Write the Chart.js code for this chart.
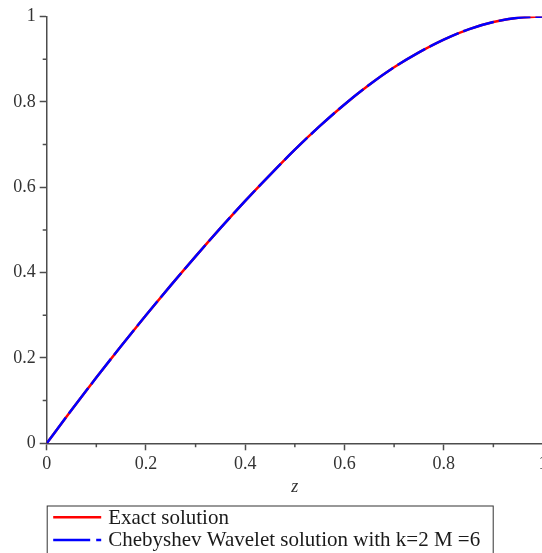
<!DOCTYPE html>
<html>
<head>
<meta charset="utf-8">
<script src="https://cdn.jsdelivr.net/npm/chart.js@4"></script>
<style>
  html, body { margin: 0; padding: 0; background: #fff; overflow: hidden; }
  #wrap { width: 560px; height: 553px; }
</style>
</head>
<body>
<div id="wrap"><canvas id="c" width="560" height="553"></canvas></div>
<script>
// ---- data ----
const zValues = [0, 0.05, 0.1, 0.15, 0.2, 0.25, 0.3, 0.35, 0.4, 0.45, 0.5, 0.55, 0.6, 0.65, 0.7, 0.75, 0.8, 0.85, 0.9, 0.95, 1.0];
const exactSolution = [0, 0.078, 0.154, 0.228, 0.300, 0.370, 0.438, 0.504, 0.568, 0.629, 0.688, 0.743, 0.794, 0.840, 0.881, 0.916, 0.946, 0.970, 0.987, 0.997, 1.0];
const waveletSolution = [0, 0.078, 0.154, 0.228, 0.300, 0.370, 0.438, 0.504, 0.568, 0.629, 0.688, 0.743, 0.794, 0.840, 0.881, 0.916, 0.946, 0.970, 0.987, 0.997, 1.0];
const xMajorTicks = [0, 0.2, 0.4, 0.6, 0.8, 1];
const yMajorTicks = [0, 0.2, 0.4, 0.6, 0.8, 1];
const minorTicks = [0.1, 0.3, 0.5, 0.7, 0.9];
const seriesLabels = ['Exact solution', 'Chebyshev Wavelet solution with k=2 M =6'];
const xTitle = 'z';

const AXIS_COLOR = '#4d4d4d';
const TICK_FONT = { family: "'Liberation Serif', 'DejaVu Serif', serif", size: 18 };

function fmt(v) { return String(Number(v.toFixed(1))); }

const minorTickPlugin = {
  id: 'minorTicks',
  afterDraw(chart) {
    const ctx = chart.ctx;
    const xs = chart.scales.x, ys = chart.scales.y;
    const a = chart.chartArea;
    ctx.save();
    ctx.strokeStyle = AXIS_COLOR;
    ctx.lineWidth = 1.5;
    ctx.beginPath();
    minorTicks.forEach(v => {
      const px = xs.getPixelForValue(v);
      ctx.moveTo(px, a.bottom); ctx.lineTo(px, a.bottom + 4);
      const py = ys.getPixelForValue(v);
      ctx.moveTo(a.left - 4, py); ctx.lineTo(a.left, py);
    });
    ctx.stroke();
    ctx.restore();
  }
};

const boxLegendPlugin = {
  id: 'boxLegend',
  afterDraw(chart) {
    const ctx = chart.ctx;
    const left = chart.chartArea.left;
    const top = 505.5;
    ctx.save();
    ctx.strokeStyle = '#333';
    ctx.lineWidth = 1;
    ctx.strokeRect(left + 0.5, top + 0.5, 446, 80);
    const rows = [517.3, 540];
    const baselines = [524, 546];
    chart.data.datasets.forEach((ds, i) => {
      ctx.strokeStyle = ds.borderColor;
      ctx.lineWidth = 2.5;
      ctx.setLineDash(i === 1 ? [37, 6] : []);
      ctx.beginPath();
      ctx.moveTo(left + 6.5, rows[i]);
      ctx.lineTo(left + 54.5, rows[i]);
      ctx.stroke();
      ctx.setLineDash([]);
      ctx.fillStyle = '#1a1a1a';
      ctx.font = "21px 'Liberation Serif', 'DejaVu Serif', serif";
      ctx.textBaseline = 'alphabetic';
      ctx.textAlign = 'left';
      ctx.fillText(ds.label, left + 61.5, baselines[i]);
    });
    ctx.restore();
  }
};

new Chart(document.getElementById('c'), {
  type: 'line',
  data: {
    datasets: [
      {
        label: seriesLabels[0],
        data: zValues.map((z, i) => ({ x: z, y: exactSolution[i] })),
        borderColor: '#ff0000',
        borderWidth: 2.5,
        pointRadius: 0,
        cubicInterpolationMode: 'monotone',
        order: 1
      },
      {
        label: seriesLabels[1],
        data: zValues.map((z, i) => ({ x: z, y: waveletSolution[i] })),
        borderColor: '#0000ff',
        borderWidth: 2.5,
        borderDash: [32, 5],
        pointRadius: 0,
        cubicInterpolationMode: 'monotone',
        order: 0
      }
    ]
  },
  options: {
    responsive: false,
    animation: false,
    layout: { padding: { left: 0, right: 17, top: 16.5, bottom: 55.2 } },
    plugins: { legend: { display: false }, tooltip: { enabled: false } },
    scales: {
      x: {
        type: 'linear',
        min: 0, max: 1,
        afterBuildTicks(scale) { scale.ticks = xMajorTicks.map(v => ({ value: v })); },
        ticks: { callback: v => fmt(v), font: TICK_FONT, color: '#333', padding: 3, maxRotation: 0, autoSkip: false },
        grid: { display: true, drawOnChartArea: false, tickLength: 7, tickColor: AXIS_COLOR, tickWidth: 1.5 },
        border: { color: AXIS_COLOR, width: 1.5 },
        title: { display: true, text: xTitle, color: '#333', padding: 0,
                 font: { family: "'Liberation Serif', 'DejaVu Serif', serif", size: 18, style: 'italic' } },
        afterFit(scale) { scale.height = 54.5; scale.paddingLeft = 0; scale.paddingRight = 0; }
      },
      y: {
        type: 'linear',
        min: 0, max: 1,
        afterBuildTicks(scale) { scale.ticks = yMajorTicks.map(v => ({ value: v })); },
        ticks: { callback: v => fmt(v), font: TICK_FONT, color: '#333', padding: 4, autoSkip: false },
        grid: { display: true, drawOnChartArea: false, tickLength: 7, tickColor: AXIS_COLOR, tickWidth: 1.5 },
        border: { color: AXIS_COLOR, width: 1.5 },
        afterFit(scale) { scale.width = 46.7; scale.paddingTop = 0; scale.paddingBottom = 0; }
      }
    }
  },
  plugins: [minorTickPlugin, boxLegendPlugin]
});
</script>
</body>
</html>
